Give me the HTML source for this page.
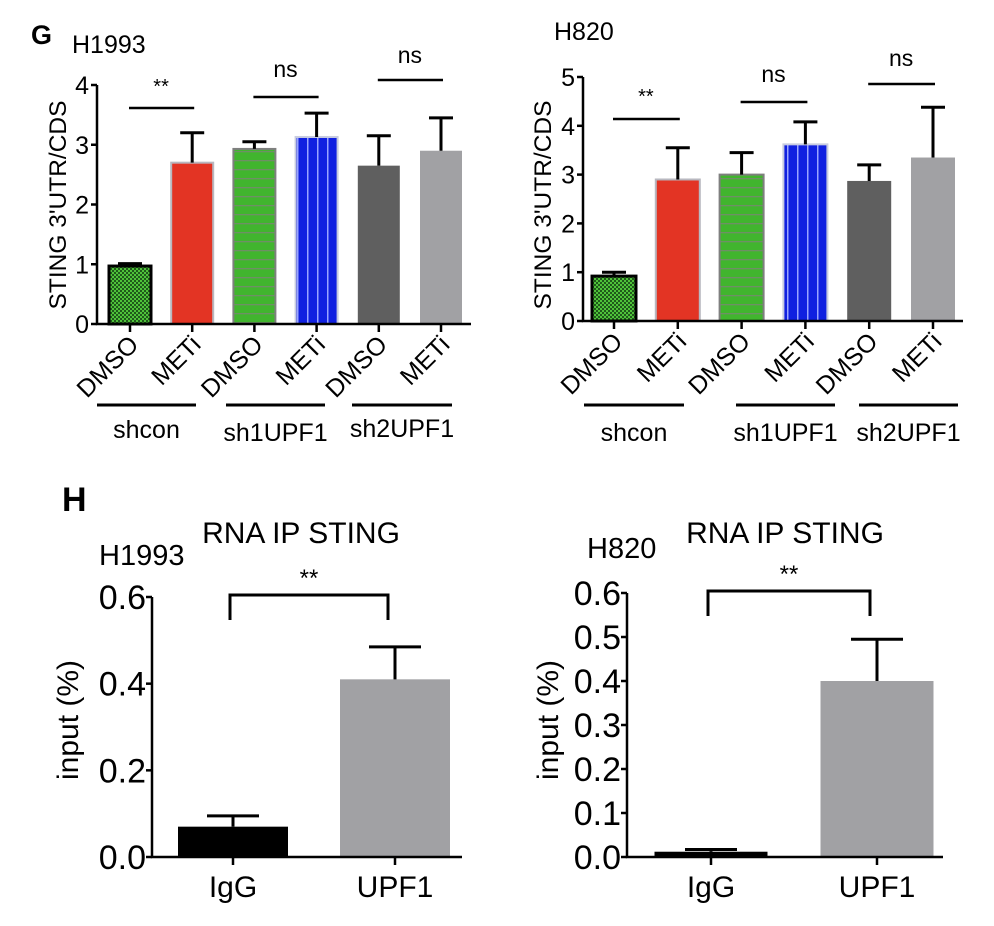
<!DOCTYPE html>
<html><head><meta charset="utf-8"><style>
html,body{margin:0;padding:0;background:#fff;}
svg{display:block;font-family:"Liberation Sans",Arial,sans-serif;}
</style></head><body>
<svg id="fig" width="994" height="926" viewBox="0 0 994 926">
<defs>
<pattern id="pDots" width="4" height="4" patternUnits="userSpaceOnUse"><rect width="4" height="4" fill="#1f5a1a"/><rect x="0" y="0" width="2" height="2" fill="#4fc23a"/><rect x="2" y="2" width="2" height="2" fill="#4fc23a"/></pattern>
<pattern id="pHstripe" width="6" height="9" patternUnits="userSpaceOnUse"><rect width="6" height="9" fill="#41b52e"/><rect y="7" width="6" height="1.3" fill="#6f8f66"/></pattern>
<pattern id="pVstripe" width="10" height="6" patternUnits="userSpaceOnUse"><rect width="10" height="6" fill="#1020e0"/><rect x="7" width="1.5" height="6" fill="#9aa4ff"/></pattern>
</defs>
<g id="root"></g>
</svg>
<script>
// ---- data ----
const gCats = ["DMSO","METi","DMSO","METi","DMSO","METi"];
const gGroups = ["shcon","sh1UPF1","sh2UPF1"];
const g1Values = [0.97, 2.70, 2.93, 3.13, 2.65, 2.90];
const g1Errors = [0.04, 0.50, 0.12, 0.40, 0.50, 0.55];
const g1Ticks = [0,1,2,3,4];
const g2Values = [0.92, 2.90, 3.00, 3.62, 2.87, 3.35];
const g2Errors = [0.08, 0.65, 0.45, 0.46, 0.33, 1.03];
const g2Ticks = [0,1,2,3,4,5];
const hCats = ["IgG","UPF1"];
const h1Values = [0.070, 0.410];
const h1Errors = [0.025, 0.075];
const h1Ticks = ["0.0","0.2","0.4","0.6"];
const h2Values = [0.012, 0.400];
const h2Errors = [0.005, 0.095];
const h2Ticks = ["0.0","0.1","0.2","0.3","0.4","0.5","0.6"];

const NS="http://www.w3.org/2000/svg";
const root=document.getElementById('root');
function mk(tag,attrs,parent,text){const e=document.createElementNS(NS,tag);for(const k in attrs)e.setAttribute(k,attrs[k]);if(text!==undefined)e.textContent=text;(parent||root).appendChild(e);return e;}

const gFills=[{f:"url(#pDots)",s:"#000",sw:3},{f:"#e33424",s:"#b8b8c0",sw:2},{f:"url(#pHstripe)",s:"#7f7f7f",sw:2},{f:"url(#pVstripe)",s:"#c8cce0",sw:2},{f:"#5f5f5f",s:"#5f5f5f",sw:0},{f:"#a1a1a4",s:"#a1a1a4",sw:0}];

function panelG(o){
  const g=mk('g',{});
  const y=v=>o.y0-(v-0)*(o.y0-o.yTop)/o.yMax;
  const x=i=>o.x0c+i*o.step;
  o.values.forEach((v,i)=>{
    const st=gFills[i];
    const r=mk('rect',{x:x(i)-o.bw/2,y:y(v),width:o.bw,height:o.y0-y(v),fill:st.f,stroke:st.s,'stroke-width':st.sw},g);
    
    
    const top=y(v+o.errors[i]);
    const e=mk('path',{d:`M${x(i)} ${y(v)}V${top}M${x(i)-12} ${top}H${x(i)+12}`,stroke:'#000','stroke-width':3,fill:'none'},g);
    
    
  });
  mk('path',{d:`M${o.ax} ${o.yTop}V${o.y0}H${o.axEnd}`,stroke:'#000','stroke-width':2.5,fill:'none',},g);
  o.ticks.forEach(t=>{
    mk('line',{x1:o.ax-6,x2:o.ax,y1:y(t),y2:y(t),stroke:'#000','stroke-width':2.5},g);
    const tl=mk('text',{x:o.ax-8,y:y(t)+9,'text-anchor':'end','font-size':25},g,String(t));
    
    
  });
  gCats.forEach((c,i)=>{
    mk('line',{x1:x(i),x2:x(i),y1:o.y0,y2:o.y0+8,stroke:'#000','stroke-width':2.5},g);
    const t=mk('text',{x:0,y:0,'text-anchor':'end','font-size':25,transform:`translate(${x(i)+10},${o.y0+22}) rotate(-45)`},g,c);
    
    
  });
  gGroups.forEach((gr,k)=>{
    const [a,b]=o.grpLines[k];
    mk('line',{x1:a,x2:b,y1:405,y2:405,stroke:'#000','stroke-width':3},g);
    const t=mk('text',{x:(a+b)/2,y:o.grpY[k],'text-anchor':'middle','font-size':25},g,gr);
    
    
  });
  o.sig.forEach((s,k)=>{
    const a=x(2*k),b=x(2*k+1);
    mk('line',{x1:a-1,x2:b+2,y1:s.y,y2:s.y,stroke:'#000','stroke-width':2.5},g);
    const t=mk('text',{x:(a+b)/2,y:s.ty,'text-anchor':'middle','font-size':s.lab=='**'?20:23},g,s.lab);
    
    
  });
  const yt=mk('text',{x:0,y:0,'text-anchor':'middle','font-size':24.5,transform:`translate(${o.ytx},205) rotate(-90)`},g,"STING 3'UTR/CDS");
  
  
  const ti=mk('text',{x:o.titleX,y:o.titleY,'font-size':25},g,o.title);
  
  
}

panelG({name:'chart-g-h1993',values:g1Values,errors:g1Errors,ticks:g1Ticks,yMax:4,y0:324,yTop:85,ax:97,axEnd:471,x0c:130,step:62.2,bw:42,
  grpLines:[[97,196],[226,325],[352,452]],grpY:[438,441,437],
  sig:[{y:108,ty:93,lab:'**'},{y:97,ty:77,lab:'ns'},{y:80,ty:63,lab:'ns'}],ytx:66,title:'H1993',titleX:72,titleY:53});
panelG({name:'chart-g-h820',values:g2Values,errors:g2Errors,ticks:g2Ticks,yMax:5,y0:321,yTop:77,ax:583,axEnd:963,x0c:614,step:63.8,bw:44,
  grpLines:[[584,684],[736,835],[859,958]],grpY:[441,441,441],
  sig:[{y:119,ty:103,lab:'**'},{y:102,ty:82,lab:'ns'},{y:84,ty:66,lab:'ns'}],ytx:551,title:'H820',titleX:554,titleY:40});

function panelH(o){
  const g=mk('g',{});
  const y=v=>o.y0-v*(o.y0-o.yTop)/0.6;
  const fills=['#000','#a1a1a4'];
  o.values.forEach((v,i)=>{
    const cx=o.cx[i];
    const r=mk('rect',{x:cx-o.bw/2,y:y(v),width:o.bw,height:o.y0-y(v),fill:fills[i]},g);
    
    
    const top=y(v+o.errors[i]);
    const e=mk('path',{d:`M${cx} ${y(v)}V${top}M${cx-26} ${top}H${cx+26}`,stroke:'#000','stroke-width':3,fill:'none'},g);
    
    
    mk('line',{x1:cx,x2:cx,y1:o.y0,y2:o.y0+8,stroke:'#000','stroke-width':2.5},g);
    const t=mk('text',{x:cx,y:897,'text-anchor':'middle','font-size':30},g,hCats[i]);
    
    
  });
  mk('path',{d:`M${o.ax} ${o.yTop}V${o.y0}H${o.axEnd}`,stroke:'#000','stroke-width':2.5,fill:'none',},g);
  o.ticks.forEach(t=>{
    const v=parseFloat(t);
    mk('line',{x1:o.ax-6,x2:o.ax,y1:y(v),y2:y(v),stroke:'#000','stroke-width':2.5},g);
    const tl=mk('text',{x:o.ax-6,y:y(v)+12,'text-anchor':'end','font-size':34},g,t);
    
    
  });
  const a=o.cx[0]-3,b=o.cx[1]-7;
  mk('path',{d:`M${a} ${o.br+25}V${o.br}H${b}V${o.br+25}`,stroke:'#000','stroke-width':3,fill:'none',},g);
  const st=mk('text',{x:(a+b)/2,y:o.br-9,'text-anchor':'middle','font-size':24},g,'**');
  
  
  const yt=mk('text',{x:0,y:0,'text-anchor':'middle','font-size':30,transform:`translate(${o.ytx},720) rotate(-90)`},g,'input (%)');
  
  
  const tt=mk('text',{x:o.ttx,y:o.tty,'text-anchor':'middle','font-size':30},g,'RNA IP STING');
  
  
  const cl=mk('text',{x:o.clx,y:o.cly,'font-size':29},g,o.cell);
  
  
}
panelH({name:'chart-h-h1993',values:h1Values,errors:h1Errors,ticks:h1Ticks,y0:857,yTop:597,ax:152,axEnd:462,cx:[233,395],bw:110,br:595,ytx:78,ttx:301,tty:543,clx:99,cly:565,cell:'H1993'});
panelH({name:'chart-h-h820',values:h2Values,errors:h2Errors,ticks:h2Ticks,y0:857,yTop:593,ax:627,axEnd:943,cx:[711,877],bw:113,br:591,ytx:558,ttx:785,tty:543,clx:587,cly:558,cell:'H820'});

const G=mk('text',{x:31,y:44,'font-size':27,'font-weight':'bold'},root,'G');


const H=mk('text',{x:62,y:511,'font-size':34,'font-weight':'bold'},root,'H');


</script>
</body></html>
